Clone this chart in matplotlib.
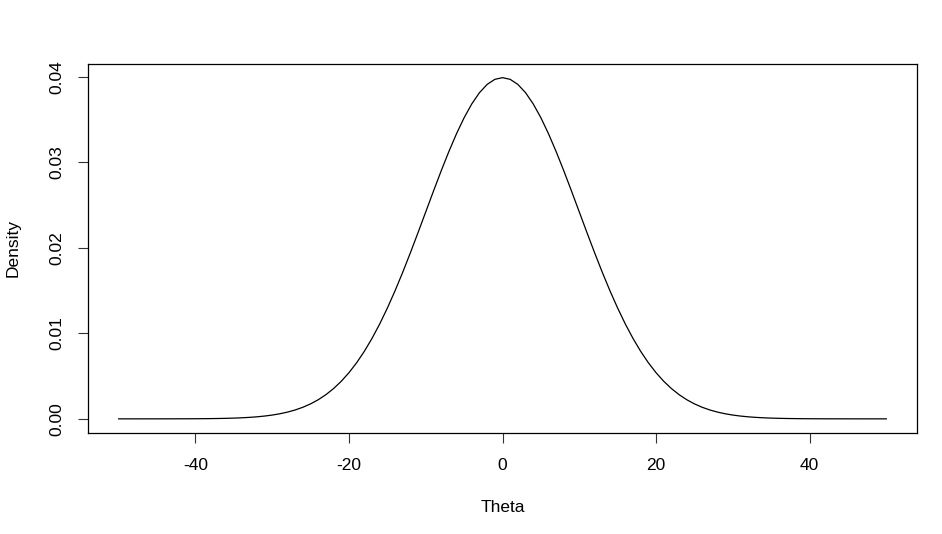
import matplotlib
matplotlib.use("Agg")
import matplotlib.pyplot as plt

plt.rcParams["font.family"] = ["Liberation Sans", "DejaVu Sans"]

# density values, every unit of theta (0 .. 50, symmetric)
theta = list(range(-50, 51))
half = [
    0.039894, 0.039695, 0.039104, 0.038139, 0.036827, 0.035207,
    0.033322, 0.031225, 0.028969, 0.026609, 0.024197, 0.021785,
    0.019419, 0.017137, 0.014973, 0.012952, 0.011092, 0.009405,
    0.007895, 0.006562, 0.005399, 0.004398, 0.003547, 0.002833,
    0.002239, 0.001753, 0.001358, 0.001042, 0.000792, 0.000595,
    0.000443, 0.000327, 0.000238, 0.000172, 0.000123, 0.0000873,
    0.0000612, 0.0000425, 0.0000292, 0.0000199, 0.0000134, 0.0000089,
    0.000006, 0.0000039, 0.0000025, 0.0000016, 0.000001, 0.0000006,
    0.0000004, 0.0000002, 0.00000015,
]
density = half[:0:-1] + half

x_ticks = [-40, -20, 0, 20, 40]
y_ticks = [0.00, 0.01, 0.02, 0.03, 0.04]
y_tick_labels = ["0.00", "0.01", "0.02", "0.03", "0.04"]

fig = plt.figure(figsize=(9.42, 5.34), dpi=100)
ax = fig.add_axes([88 / 942, 1 - 432.5 / 534, 829 / 942, 368.5 / 534])

ax.plot(theta, density, color="black", linewidth=0.9)

# R style 4% axis expansion
x_span = max(theta) - min(theta)
y_span = max(density) - min(density)
ax.set_xlim(min(theta) - 0.04 * x_span, max(theta) + 0.04 * x_span)
ax.set_ylim(min(density) - 0.04 * y_span, max(density) + 0.04 * y_span)

ax.set_xticks(x_ticks)
ax.set_xticklabels([str(t) for t in x_ticks])
ax.set_yticks(y_ticks)
ax.set_yticklabels(y_tick_labels, rotation=90, va="center")

ax.tick_params(axis="both", length=7.5, width=0.8, labelsize=12.5,
               color="#333333")
ax.tick_params(axis="x", pad=11)
ax.tick_params(axis="y", pad=9.5)
for spine in ax.spines.values():
    spine.set_linewidth(0.9)

ax.set_xlabel("Theta", fontsize=12.5, va="center")
ax.set_ylabel("Density", fontsize=12.5, va="center")
ax.xaxis.set_label_coords(0.5, (432.5 - 508) / 368.5)
ax.yaxis.set_label_coords((13 - 88) / 829, 0.5)

fig.savefig("out.png", dpi=100)
